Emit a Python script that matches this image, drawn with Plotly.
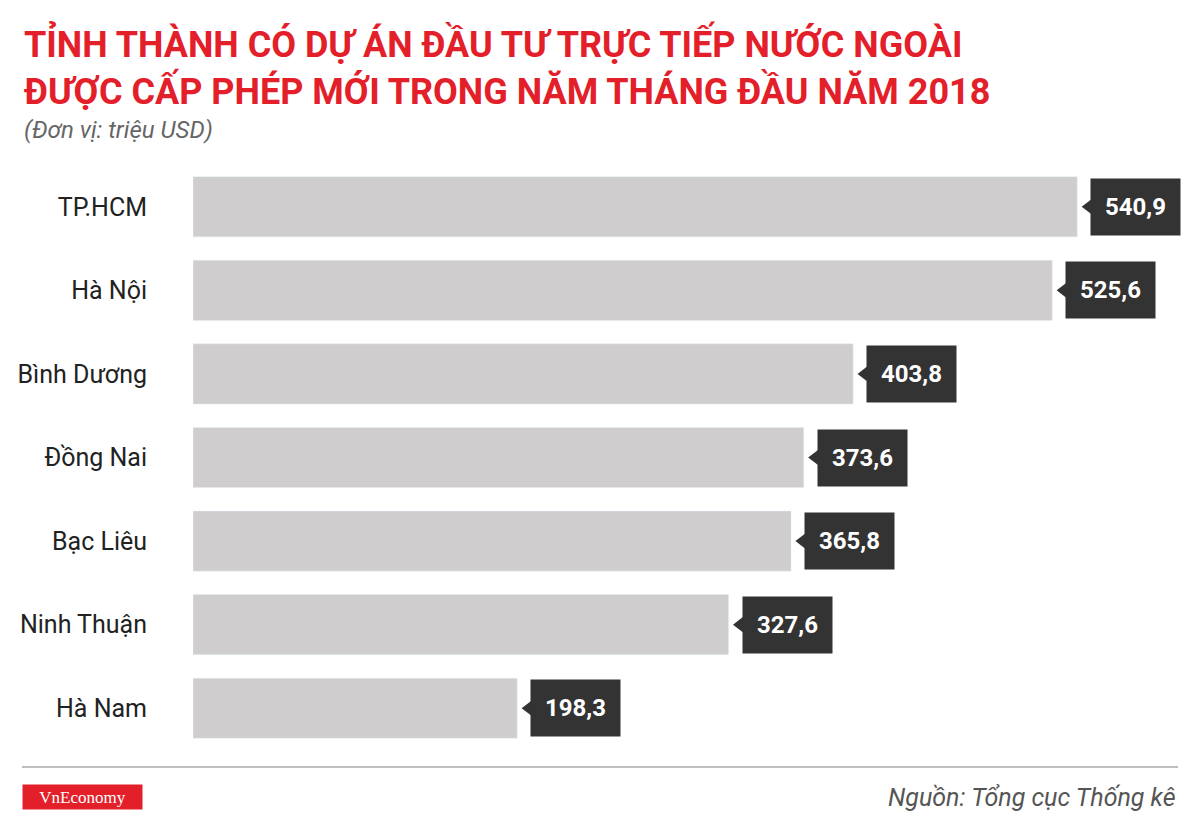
import plotly.graph_objects as go

provinces = ["TP.HCM", "Hà Nội", "Bình Dương", "Đồng Nai", "Bạc Liêu", "Ninh Thuận", "Hà Nam"]
values = [540.9, 525.6, 403.8, 373.6, 365.8, 327.6, 198.3]
labels = ["540,9", "525,6", "403,8", "373,6", "365,8", "327,6", "198,3"]

OFF = 8  # page offset
L, T, B = 193 - OFF, 165 - OFF, 750 - OFF
W, H = 1007, 585

fig = go.Figure()
fig.add_trace(go.Bar(x=values, y=provinces, orientation="h", marker_color="#cfcdcd",
                     width=0.72, hoverinfo="skip"))
fig.add_trace(go.Scatter(x=[v + 7 for v in values], y=provinces, mode="markers",
                         marker=dict(symbol="triangle-left", size=14, color="#333333"),
                         hoverinfo="skip"))
for p, v, t in zip(provinces, values, labels):
    fig.add_annotation(x=v, y=p, text=t, showarrow=False, xanchor="left", xshift=13,
                       font=dict(family="Roboto", size=24, color="white", weight="bold"),
                       bgcolor="#333333", borderpad=14)

def px(x):
    return (x - OFF - L) / W

def py(y):
    return (B - (y - OFF)) / H

texts = [
    ("TỈNH THÀNH CÓ DỰ ÁN ĐẦU TƯ TRỰC TIẾP NƯỚC NGOÀI", 22, 43, 36, "#e3202a", "bold", "normal", "left"),
    ("ĐƯỢC CẤP PHÉP MỚI TRONG NĂM THÁNG ĐẦU NĂM 2018", 22, 90, 36, "#e3202a", "bold", "normal", "left"),
    ("(Đơn vị: triệu USD)", 22, 130, 24, "#666666", "normal", "italic", "left"),
    ("Nguồn: Tổng cục Thống kê", 1178, 797, 25, "#555555", "normal", "italic", "right"),
]
for t, x, y, s, c, w, st, xa in texts:
    fig.add_annotation(xref="paper", yref="paper", x=px(x), y=py(y), xanchor=xa, yanchor="middle",
                       text=t, showarrow=False,
                       font=dict(family="Roboto", size=s, color=c, weight=w, style=st))
fig.add_annotation(xref="paper", yref="paper", x=px(22), y=py(797),
                   xanchor="left", yanchor="middle", text="VnEconomy", showarrow=False,
                   font=dict(family="Liberation Serif", size=17, color="white"),
                   bgcolor="#e3202a", width=117, height=22)
fig.add_shape(type="line", xref="paper", yref="paper", x0=px(22), x1=px(1178),
              y0=py(767), y1=py(767), line=dict(color="#aaaaaa", width=1.5))

fig.update_layout(
    width=1200, height=821, margin=dict(l=L, r=1200 - L - W, t=T, b=821 - B),
    paper_bgcolor="white", plot_bgcolor="white", showlegend=False,
    xaxis=dict(range=[0, 616], visible=False, fixedrange=True),
    yaxis=dict(autorange=False, range=[6.5, -0.5], showgrid=False, zeroline=False,
               ticks="", ticklabelstandoff=45,
               tickfont=dict(family="Roboto", size=25, color="#222222")),
)
fig.write_html("out.html")
